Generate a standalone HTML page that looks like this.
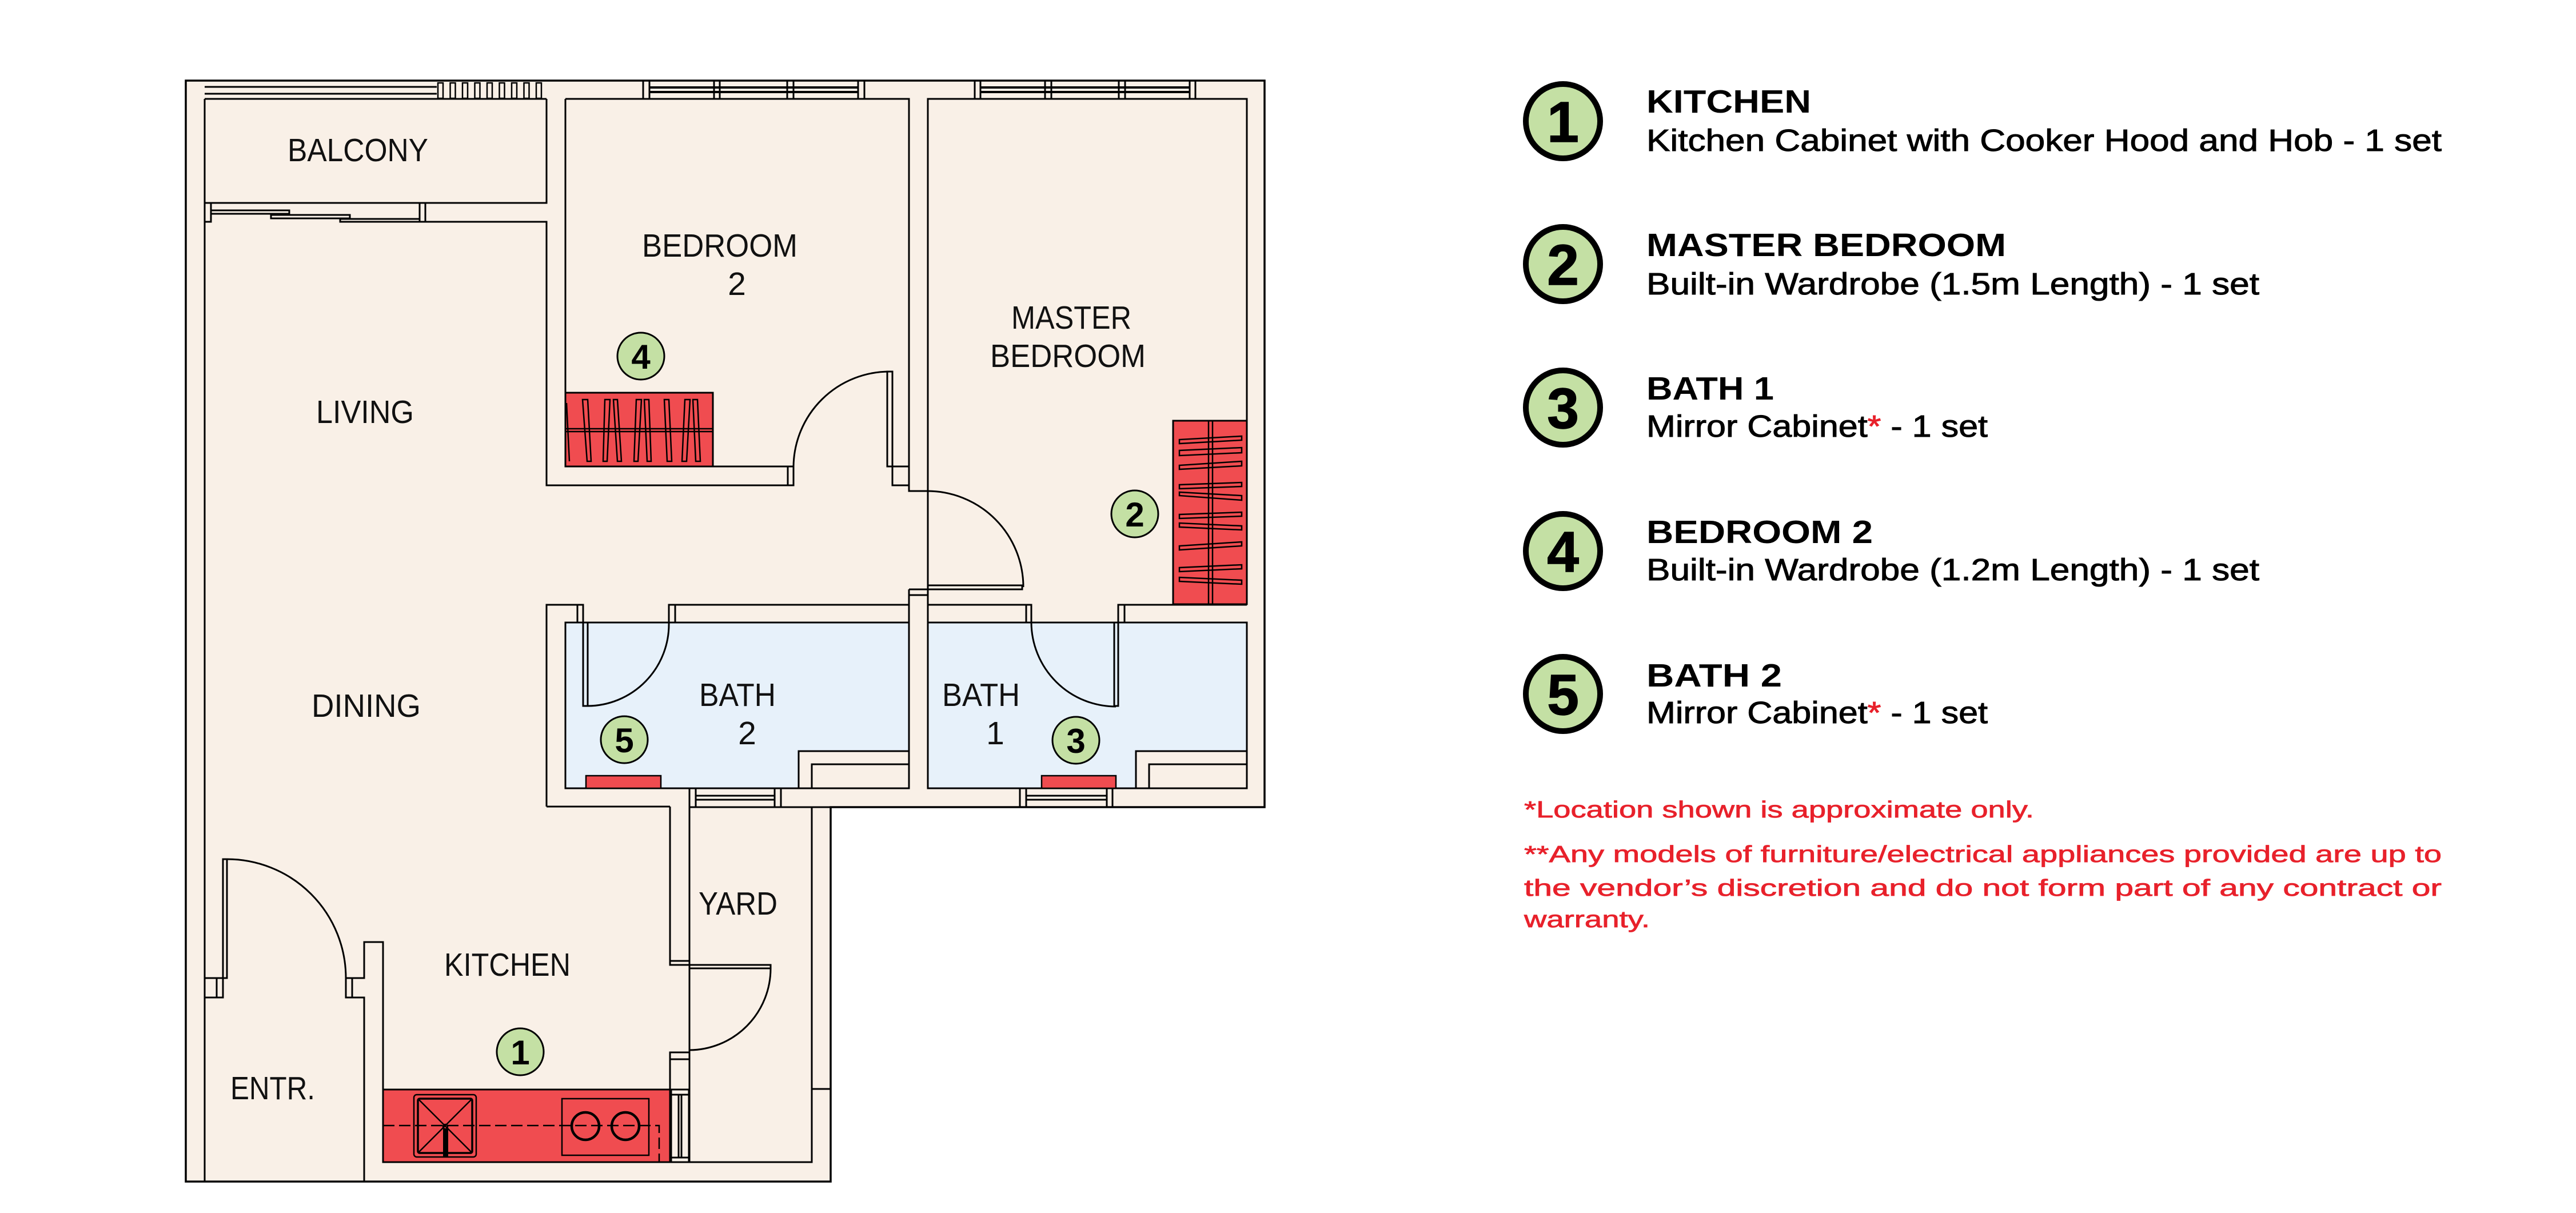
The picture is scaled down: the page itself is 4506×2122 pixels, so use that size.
<!DOCTYPE html>
<html><head><meta charset="utf-8"><style>
html,body{margin:0;padding:0;background:#fff;}
svg{display:block;}
text{font-family:"Liberation Sans",Arial,sans-serif;}
</style></head><body>
<svg width="4506" height="2122" viewBox="0 0 4506 2122" xmlns="http://www.w3.org/2000/svg">
<rect width="4506" height="2122" fill="#fff"/>
<path d="M325,141H2212V1412H1453V2067H325Z" fill="#f9f0e7"/>
<rect x="989" y="1089" width="601" height="290" fill="#e7f1fa"/>
<rect x="1623" y="1089" width="558" height="290" fill="#e7f1fa"/>
<rect x="1397" y="1314" width="193" height="65" fill="#f9f0e7"/>
<rect x="1987" y="1314" width="194" height="65" fill="#f9f0e7"/>
<path d="M325,141H2212V1412H1453V2067H325Z" fill="none" stroke="#000" stroke-width="3.5"/>

<g fill="none" stroke="#000" stroke-width="3">
<!-- balcony -->
<path d="M358,173V2067"/>
<path d="M358,152H764M358,164H764M358,173H956"/>
<g stroke-width="2.5">
<rect x="766" y="145" width="9" height="27"/><rect x="787.5" y="145" width="9" height="27"/><rect x="809" y="145" width="9" height="27"/><rect x="830.5" y="145" width="9" height="27"/><rect x="852" y="145" width="9" height="27"/><rect x="873.5" y="145" width="9" height="27"/><rect x="895" y="145" width="9" height="27"/><rect x="916.5" y="145" width="9" height="27"/><rect x="938" y="145" width="9" height="27"/>
</g>
<path d="M358,355H956V173"/>
<rect x="358" y="355" width="11" height="33"/>
<rect x="734" y="355" width="10" height="33"/>
<rect x="369" y="368" width="137" height="6"/>
<rect x="474" y="376" width="138" height="6"/>
<rect x="595" y="383" width="139" height="5"/>
<!-- living / bedroom 2 -->
<path d="M595,388H956V849H1388V816H989V173"/>
<path d="M1378,816V849"/>
<path d="M989,173H1590V859H1623"/>
<path d="M1561,849H1590"/>
<rect x="1561" y="816" width="29" height="33"/>
<rect x="1552" y="650" width="9" height="166"/>
<path d="M1388,816A168,168 0 0 1 1556,650"/>
<!-- bedroom 2 window -->
<path d="M1125,141V173M1136,141V173M1249,141V173M1259,141V173M1377,141V173M1388,141V173M1501,141V173M1512,141V173"/>
<path d="M1136,153H1501M1136,161H1501" stroke-width="4"/>
<!-- master -->
<path d="M1623,1024V173H2181V1058"/>
<path d="M1705,141V173M1715,141V173M1828,141V173M1839,141V173M1957,141V173M1968,141V173M2081,141V173M2091,141V173"/>
<path d="M1715,153H2081M1715,161H2081" stroke-width="4"/>
<rect x="1623" y="1024" width="165" height="7"/>
<path d="M1623,859A168,168 0 0 1 1790,1027"/>
<path d="M1590,1031H1623M1590,1041H1623M1590,1031V1379M1623,1031V1379"/>
<!-- corridor / bath tops -->
<path d="M956,1411V1058H1020"/>
<rect x="1010" y="1058" width="10" height="31"/>
<path d="M1170,1058H1590"/>
<rect x="1170" y="1058" width="11" height="31"/>
<path d="M1623,1058H1804"/>
<rect x="1795" y="1058" width="9" height="31"/>
<rect x="1956" y="1058" width="11" height="31"/>
<path d="M1956,1058H2181"/>
<rect x="989" y="1089" width="601" height="290"/>
<rect x="1623" y="1089" width="558" height="290"/>
<rect x="1020" y="1089" width="8" height="146"/>
<path d="M1028,1235A143,143 0 0 0 1170,1089"/>
<rect x="1949" y="1089" width="7" height="146"/>
<path d="M1804,1089A148,148 0 0 0 1952,1236"/>
<path d="M1397,1379V1314H1590M1420,1379V1337H1590"/>
<path d="M1987,1379V1314H2181M2010,1379V1337H2181"/>
<path d="M956,1411H1172M1206,1412H1453"/>
<!-- bath windows -->
<rect x="1206" y="1379" width="160" height="33"/>
<path d="M1217,1379V1412M1355,1379V1412M1217,1392H1355M1217,1399H1355"/>
<rect x="1784" y="1379" width="162" height="33"/>
<path d="M1795,1379V1412M1936,1379V1412M1795,1392H1936M1795,1399H1936"/>
<!-- yard -->
<path d="M1172,1411V1688H1206V1412M1172,1681H1206"/>
<rect x="1206" y="1688" width="142" height="6"/>
<path d="M1348,1694A143,143 0 0 1 1206,1837"/>
<path d="M1206,1694V1841"/>
<path d="M1172,2033V1841H1206V2033M1172,1853H1206"/>
<path d="M1206,2033H1420V1412M1420,1905H1453"/>
<rect x="1174" y="1906" width="31" height="127"/>
<path d="M1187,1915V2025M1192,1915V2025M1174,1915H1205M1174,2025H1205"/>
<!-- kitchen / entrance -->
<path d="M670,1906V1648H637V1711H605"/>
<rect x="605" y="1711" width="11" height="34"/>
<path d="M616,1745H637V2067"/>
<path d="M358,1711H397"/>
<rect x="390" y="1503" width="7" height="208"/>
<rect x="379" y="1711" width="11" height="34"/>
<path d="M358,1745H390"/>
<path d="M397,1503A208,208 0 0 1 605,1711"/>
</g>

<!-- kitchen counter -->
<rect x="670" y="1906" width="502" height="127" fill="#f04c50" stroke="#000" stroke-width="3"/>
<g fill="none" stroke="#000" stroke-width="2.5">
<rect x="724" y="1915" width="109" height="109" rx="5"/>
<rect x="731" y="1922" width="95" height="95" rx="3" stroke-width="3.5"/>
<path d="M731,1922L826,2017M826,1922L731,2017"/>
<path d="M670,1969H1153V2033" stroke-dasharray="20 8"/>
<rect x="983" y="1922" width="152" height="99"/>
<circle cx="1024" cy="1970" r="24" stroke-width="4.5"/>
<circle cx="1094" cy="1970" r="24" stroke-width="4.5"/>
<circle cx="779" cy="1971" r="4"/>
</g>
<rect x="775" y="1975" width="9" height="48" fill="#000"/>

<!-- bedroom 2 wardrobe -->
<rect x="989" y="687" width="258" height="129" fill="#f04c50" stroke="#000" stroke-width="3"/>
<g fill="none" stroke="#000" stroke-width="2.5">
<rect x="989" y="750" width="258" height="5"/>
<polygon points="1019,699 1028,699 1034,807 1027,807"/>
<polygon points="1058,699 1067,699 1062,807 1055,807"/>
<polygon points="1073,699 1080,699 1087,807 1080,807"/>
<polygon points="1113,699 1122,699 1116,807 1109,807"/>
<polygon points="1127,699 1135,699 1139,807 1132,807"/>
<polygon points="1162,699 1170,699 1175,807 1167,807"/>
<polygon points="1198,699 1207,699 1201,807 1193,807"/>
<polygon points="1212,699 1220,699 1225,807 1217,807"/>
<path d="M991,705L996,807"/>
</g>

<!-- master wardrobe -->
<rect x="2052" y="736" width="129" height="321" fill="#f04c50" stroke="#000" stroke-width="3"/>
<g fill="none" stroke="#000" stroke-width="2.5">
<rect x="2114" y="736" width="7" height="321"/>
<polygon points="2063,769 2063,776 2172,770 2172,763"/>
<polygon points="2063,788 2063,797 2172,792 2172,783"/>
<polygon points="2063,814 2063,821 2172,815 2172,807"/>
<polygon points="2063,848 2063,855 2172,851 2172,844"/>
<polygon points="2063,861 2063,867 2172,875 2172,867"/>
<polygon points="2063,900 2063,907 2172,903 2172,896"/>
<polygon points="2063,915 2063,922 2172,927 2172,920"/>
<polygon points="2063,955 2063,962 2172,955 2172,948"/>
<polygon points="2063,993 2063,1000 2172,995 2172,988"/>
<polygon points="2063,1010 2063,1017 2172,1022 2172,1015"/>
</g>

<!-- bath mirror cabinets -->
<rect x="1025" y="1357" width="131" height="22" fill="#f04c50" stroke="#000" stroke-width="2.5"/>
<rect x="1822" y="1357" width="130" height="22" fill="#f04c50" stroke="#000" stroke-width="2.5"/>

<!-- plan badges -->
<g fill="#c4e0a4" stroke="#000" stroke-width="3">
<circle cx="1121" cy="623" r="41"/>
<circle cx="1985" cy="899" r="41"/>
<circle cx="1092" cy="1294" r="41"/>
<circle cx="1882" cy="1295" r="41"/>
<circle cx="910" cy="1840" r="41"/>
</g>
<g font-weight="bold" font-size="60" text-anchor="middle" fill="#000">
<text x="1121" y="645">4</text>
<text x="1985" y="921">2</text>
<text x="1092" y="1316">5</text>
<text x="1882" y="1317">3</text>
<text x="910" y="1862">1</text>
</g>

<!-- room labels -->
<g font-size="57" fill="#111">
<text x="503" y="282" textLength="246" lengthAdjust="spacingAndGlyphs">BALCONY</text>
<text x="553" y="740" textLength="171" lengthAdjust="spacingAndGlyphs">LIVING</text>
<text x="1123" y="449" textLength="272" lengthAdjust="spacingAndGlyphs">BEDROOM</text>
<text x="1289" y="516" text-anchor="middle">2</text>
<text x="1769" y="575" textLength="210" lengthAdjust="spacingAndGlyphs">MASTER</text>
<text x="1732" y="642" textLength="272" lengthAdjust="spacingAndGlyphs">BEDROOM</text>
<text x="545" y="1254" textLength="191" lengthAdjust="spacingAndGlyphs">DINING</text>
<text x="1223" y="1235" textLength="134" lengthAdjust="spacingAndGlyphs">BATH</text>
<text x="1307" y="1302" text-anchor="middle">2</text>
<text x="1648" y="1235" textLength="136" lengthAdjust="spacingAndGlyphs">BATH</text>
<text x="1741" y="1302" text-anchor="middle">1</text>
<text x="1222" y="1600" textLength="138" lengthAdjust="spacingAndGlyphs">YARD</text>
<text x="777" y="1707" textLength="221" lengthAdjust="spacingAndGlyphs">KITCHEN</text>
<text x="403" y="1923" textLength="148" lengthAdjust="spacingAndGlyphs">ENTR.</text>
</g>

<!-- legend badges -->
<g fill="#c4e0a4" stroke="#000" stroke-width="10">
<circle cx="2734" cy="212" r="65"/>
<circle cx="2734" cy="462" r="65"/>
<circle cx="2734" cy="713" r="65"/>
<circle cx="2734" cy="964" r="65"/>
<circle cx="2734" cy="1214" r="65"/>
</g>
<g font-weight="bold" font-size="100" text-anchor="middle" fill="#000" stroke="#000" stroke-width="1.5">
<text x="2734" y="248">1</text>
<text x="2734" y="498">2</text>
<text x="2734" y="749">3</text>
<text x="2734" y="1000">4</text>
<text x="2734" y="1250">5</text>
</g>

<!-- legend text -->
<g fill="#000">
<text x="2880" y="197" font-size="57" font-weight="bold" textLength="288" lengthAdjust="spacingAndGlyphs">KITCHEN</text>
<text x="2880" y="448" font-size="57" font-weight="bold" textLength="629" lengthAdjust="spacingAndGlyphs">MASTER BEDROOM</text>
<text x="2880" y="699" font-size="57" font-weight="bold" textLength="223" lengthAdjust="spacingAndGlyphs">BATH 1</text>
<text x="2880" y="950" font-size="57" font-weight="bold" textLength="396" lengthAdjust="spacingAndGlyphs">BEDROOM 2</text>
<text x="2880" y="1201" font-size="57" font-weight="bold" textLength="237" lengthAdjust="spacingAndGlyphs">BATH 2</text>
</g>
<g fill="#000" stroke="#000" stroke-width="1" font-size="54">
<text x="2880" y="264" textLength="1391" lengthAdjust="spacingAndGlyphs">Kitchen Cabinet with Cooker Hood and Hob - 1 set</text>
<text x="2880" y="515" textLength="1072" lengthAdjust="spacingAndGlyphs">Built-in Wardrobe (1.5m Length) - 1 set</text>
<text x="2880" y="764" textLength="597" lengthAdjust="spacingAndGlyphs">Mirror Cabinet<tspan fill="#e8212b" stroke="#e8212b">*</tspan> - 1 set</text>
<text x="2880" y="1015" textLength="1072" lengthAdjust="spacingAndGlyphs">Built-in Wardrobe (1.2m Length) - 1 set</text>
<text x="2880" y="1265" textLength="597" lengthAdjust="spacingAndGlyphs">Mirror Cabinet<tspan fill="#e8212b" stroke="#e8212b">*</tspan> - 1 set</text>
</g>
<g fill="#e8212b" stroke="#e8212b" stroke-width="0.8" font-size="41">
<text x="2666" y="1430" textLength="892" lengthAdjust="spacingAndGlyphs">*Location shown is approximate only.</text>
<text x="2666" y="1508" textLength="1605" lengthAdjust="spacingAndGlyphs">**Any models of furniture/electrical appliances provided are up to</text>
<text x="2666" y="1567" textLength="1605" lengthAdjust="spacingAndGlyphs">the vendor’s discretion and do not form part of any contract or</text>
<text x="2666" y="1622" textLength="220" lengthAdjust="spacingAndGlyphs">warranty.</text>
</g>
</svg>
</body></html>
